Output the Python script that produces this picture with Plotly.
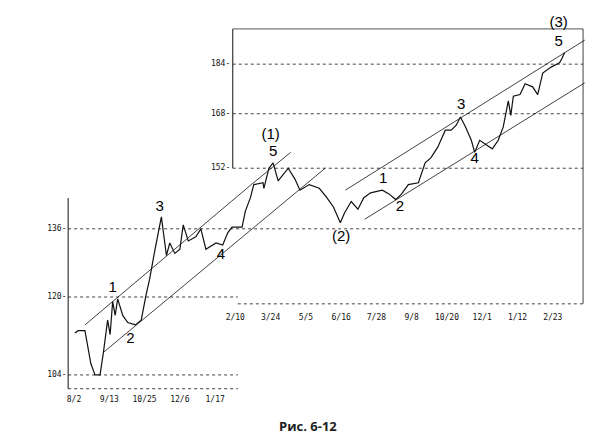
import plotly.graph_objects as go

# days counted from 8/2 of the first year
days = [1, 5, 13, 17, 20, 25, 31, 35, 40, 43, 46, 49, 52, 58, 64, 73, 80, 86, 90, 96, 101,
        104, 110, 114, 120, 126, 130, 136, 145, 151, 157, 169, 177, 183, 188, 200, 204, 210,
        214, 225, 226, 232, 237, 243, 255, 263, 269, 280, 292, 301, 309, 317, 322, 330, 338,
        345, 353, 367, 375, 383, 390, 398, 410, 418, 425, 433, 442, 449, 455, 460, 466, 473,
        477, 483, 492, 498, 505, 511, 517, 520, 523, 531, 537, 546, 552, 558, 568, 578, 581, 584]
price = [112.3, 112.8, 112.8, 108.9, 106.2, 104, 104, 108.4, 115, 112, 119, 116, 119.6, 116,
         114.5, 114, 115, 120.7, 124, 130.5, 136, 139, 129.5, 132.5, 130, 131, 137, 133, 134,
         136, 131, 132.5, 132, 135, 136.4, 136.4, 140.5, 144, 147.5, 148, 146.5, 152, 153.5,
         148.5, 152, 149, 146, 147.5, 146.5, 144, 141.5, 137.5, 140, 143, 141, 144, 145.3, 146,
         145, 143.5, 145, 147.5, 148, 153.5, 155, 158, 163, 163, 164.5, 167, 164, 160, 156.5,
         160, 158.5, 157.5, 160, 164, 172, 167.5, 173.5, 174, 177.5, 176.5, 174, 181, 183,
         184.5, 186, 188]

channel1_upper = ([13, 211], [114, 147.5])
channel1_upper2 = ([211, 258], [147.5, 156.5])
channel1_lower = ([35, 299], [108.4, 152])
channel2_upper = ([323, 608], [146, 192.3])
channel2_lower = ([346, 608], [138.4, 177.8])

wave_text = ["1", "2", "3", "4", "5", "(1)", "(2)", "1", "2", "3", "4", "5", "(3)"]
wave_x = [46, 67, 102, 175, 237, 234, 318, 368, 388, 461, 477, 577, 577]
wave_y = [122, 111, 141.5, 129.5, 156.5, 161.5, 134, 149, 141.5, 170.5, 154.5, 191.5, 198.5]

left_ticks = [104, 120, 136]
right_ticks = [152, 168, 184]
left_dates = ["8/2", "9/13", "10/25", "12/6", "1/17"]
left_date_days = [0, 42, 84, 126, 168]
right_dates = ["2/10", "3/24", "5/5", "6/16", "7/28", "9/8", "10/20", "12/1", "1/12", "2/23"]
right_date_days = [192, 234, 276, 318, 360, 402, 444, 486, 528, 570]

fig = go.Figure()
ink = "#111111"


def line(xs, ys, width=1, dash=None, color=ink):
    fig.add_trace(go.Scatter(x=xs, y=ys, mode="lines", hoverinfo="skip",
                             line=dict(color=color, width=width, dash=dash)))


# frames
line([-7, -7], [101.4, 143.9])
line([-7, 195], [101.4, 101.4], 0.8, "dot")
line([189, 189], [152, 196.3])
line([189, 606], [196.3, 196.3], 1, None, "#555555")
line([606, 606], [118.5, 196.3], 0.8)
line([195, 606], [118.5, 118.5], 0.8, "dot")

# dotted grid levels
for v in [104, 120]:
    line([-7, 195], [v, v], 0.8, "dot")
line([-7, 606], [136, 136], 0.8, "dot")
for v in right_ticks:
    line([189, 606], [v, v], 0.8, "dot")

# channels
for cx, cy in [channel1_upper, channel1_upper2, channel1_lower, channel2_upper, channel2_lower]:
    line(cx, cy, 0.8)

# price
line(days, price, 1.2)

small = dict(family="DejaVu Sans Mono", size=8, color=ink)
fig.add_trace(go.Scatter(x=[-9] * 3, y=left_ticks, mode="text", text=[f"{v}-" for v in left_ticks],
                         textposition="middle left", textfont=small, hoverinfo="skip"))
fig.add_trace(go.Scatter(x=[186] * 3, y=right_ticks, mode="text", text=[f"{v}-" for v in right_ticks],
                         textposition="middle left", textfont=small, hoverinfo="skip"))
fig.add_trace(go.Scatter(x=left_date_days, y=[99.3] * 5, mode="text", text=left_dates,
                         textfont=small, hoverinfo="skip"))
fig.add_trace(go.Scatter(x=right_date_days, y=[115.4] * 10, mode="text", text=right_dates,
                         textfont=small, hoverinfo="skip"))
fig.add_trace(go.Scatter(x=wave_x, y=wave_y, mode="text", text=wave_text,
                         textfont=dict(family="Liberation Sans", size=15, color="#000000"),
                         hoverinfo="skip"))

fig.add_annotation(text="<b>Рис. 6-12</b>", xref="paper", yref="paper", x=0.5, y=0.043,
                   showarrow=False, font=dict(family="Open Sans", size=13, color="#222222"))

fig.update_layout(
    width=600, height=448, showlegend=False,
    margin=dict(l=0, r=0, t=0, b=0),
    paper_bgcolor="white", plot_bgcolor="white",
    xaxis=dict(range=[-78.6, 635.7], visible=False),
    yaxis=dict(type="log", range=[1.9524, 2.3096], visible=False),
)
fig.write_html("out.html")
